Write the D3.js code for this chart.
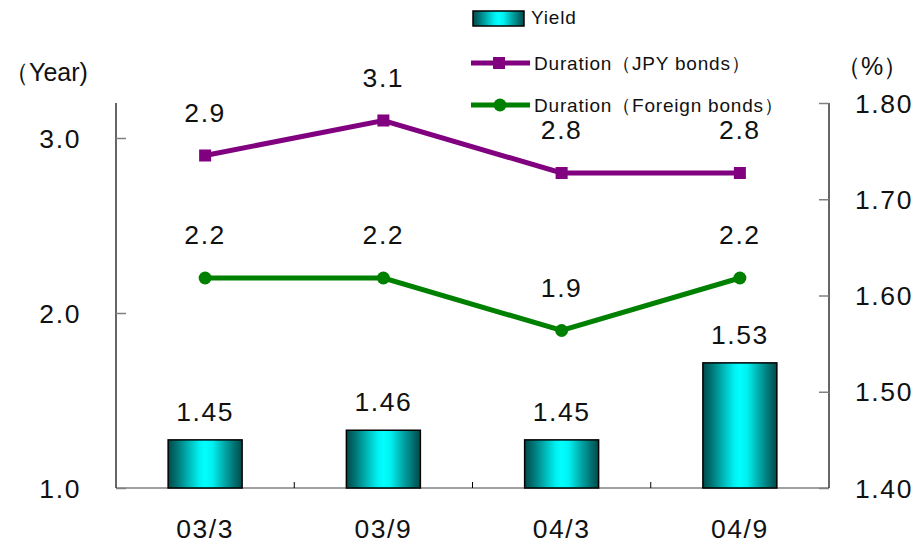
<!DOCTYPE html>
<html>
<head>
<meta charset="utf-8">
<script src="https://cdn.jsdelivr.net/npm/d3@7"></script>
<style>
  html, body { margin: 0; padding: 0; background: #fff; }
  svg { display: block; font-family: "Liberation Sans", Arial, sans-serif; }
  .num { letter-spacing: 1.6px; }
  .leg { letter-spacing: 0.8px; }
</style>
</head>
<body>
<svg id="chart" width="916" height="548"></svg>
<script>
// Half-year periods
const categories = ["03/3", "03/9", "04/3", "04/9"];
// Portfolio yield (%), right axis
const yieldValues = [1.45, 1.46, 1.45, 1.53];
// Duration in years, left axis
const durationJPY = [2.9, 3.1, 2.8, 2.8];
const durationForeign = [2.2, 2.2, 1.9, 2.2];
// Axis tick labels
const leftTicks = [1.0, 2.0, 3.0];
const rightTicks = [1.40, 1.50, 1.60, 1.70, 1.80];

const svg = d3.select("#chart");
const plot = { left: 116, right: 829, top: 103, bottom: 488 };

const x = d3.scaleBand().domain(categories).range([plot.left, plot.right]).paddingInner(0.585).paddingOuter(0.2925);
const xc = d3.scaleBand().domain(categories).range([plot.left, plot.right]);
const yL = d3.scaleLinear().domain([1.0, 3.2]).range([plot.bottom, plot.top]);
const yR = d3.scaleLinear().domain([1.40, 1.80]).range([plot.bottom, plot.top]);

// Bar gradient: dark teal edges, bright cyan centre
const defs = svg.append("defs");
const grad = defs.append("linearGradient").attr("id", "cyl").attr("x1", "0").attr("x2", "1").attr("y1", "0").attr("y2", "0");
[[0, "#004a4a"], [0.12, "#007575"], [0.28, "#00b8b8"], [0.42, "#00f0f0"], [0.5, "#00ffff"], [0.6, "#00f0f0"], [0.75, "#00adad"], [0.9, "#007070"], [1, "#004a4a"]]
  .forEach(([o, c]) => grad.append("stop").attr("offset", o).attr("stop-color", c));

// Category baseline and separator ticks
svg.append("line").attr("x1", plot.left).attr("x2", plot.right).attr("y1", plot.bottom).attr("y2", plot.bottom)
  .attr("stroke", "#808080").attr("stroke-width", 1.5);
svg.append("g").selectAll("line").data(categories.slice(1)).join("line")
  .attr("x1", d => xc(d)).attr("x2", d => xc(d))
  .attr("y1", plot.bottom).attr("y2", plot.bottom - 6)
  .attr("stroke", "#000").attr("stroke-width", 1);

// Left axis (years)
const axL = d3.axisRight(yL).tickValues(leftTicks).tickSize(10).tickFormat("");
const gL = svg.append("g").attr("transform", `translate(${plot.left},0)`).call(axL);
gL.select(".domain").attr("stroke", "#000").attr("stroke-width", 1.2).attr("d", `M0,${plot.top}V${plot.bottom}`);
gL.selectAll(".tick line").attr("stroke", "#808080").attr("stroke-width", 1.5);
svg.append("g").selectAll("text").data(leftTicks).join("text")
  .attr("class", "num").attr("x", 81).attr("y", d => yL(d) + 9.5).attr("text-anchor", "end")
  .attr("font-size", 26.5).attr("fill", "#111").text(d => d.toFixed(1));

// Right axis (%)
const axR = d3.axisLeft(yR).tickValues(rightTicks).tickSize(10).tickFormat("");
const gR = svg.append("g").attr("transform", `translate(${plot.right},0)`).call(axR);
gR.select(".domain").attr("stroke", "#000").attr("stroke-width", 1.2).attr("d", `M0,${plot.top}V${plot.bottom}`);
gR.selectAll(".tick line").attr("stroke", "#808080").attr("stroke-width", 1.5);
svg.append("g").selectAll("text").data(rightTicks).join("text")
  .attr("class", "num").attr("x", 855).attr("y", d => yR(d) + 9.5).attr("text-anchor", "start")
  .attr("font-size", 26.5).attr("fill", "#111").text(d => d.toFixed(2));

// Axis unit labels
svg.append("text").attr("x", 4).attr("y", 81).attr("font-size", 25).attr("fill", "#111").text("（Year)");
svg.append("text").attr("x", 836).attr("y", 75).attr("font-size", 25).attr("fill", "#111").text("（%）");

// Category labels
svg.append("g").selectAll("text").data(categories).join("text")
  .attr("class", "num").attr("x", d => xc(d) + xc.bandwidth() / 2).attr("y", 538).attr("text-anchor", "middle")
  .attr("font-size", 26.5).attr("fill", "#111").text(d => d);

// Yield bars
svg.append("g").selectAll("rect").data(yieldValues).join("rect")
  .attr("x", (d, i) => x(categories[i])).attr("width", x.bandwidth())
  .attr("y", d => yR(d)).attr("height", d => yR(1.40) - yR(d))
  .attr("fill", "url(#cyl)").attr("stroke", "#000").attr("stroke-width", 1.5);
svg.append("g").selectAll("text").data(yieldValues).join("text")
  .attr("class", "num").attr("x", (d, i) => xc(categories[i]) + xc.bandwidth() / 2).attr("y", d => yR(d) - 19)
  .attr("text-anchor", "middle").attr("font-size", 26.5).attr("fill", "#111").text(d => d.toFixed(2));

// Duration lines
const cx = (d, i) => xc(categories[i]) + xc.bandwidth() / 2;
const line = d3.line().x(cx).y(d => yL(d));
function drawSeries(values, color, shape) {
  const g = svg.append("g");
  g.append("path").datum(values).attr("d", line).attr("fill", "none")
    .attr("stroke", color).attr("stroke-width", 5).attr("stroke-linejoin", "miter");
  if (shape === "square") {
    g.selectAll("rect").data(values).join("rect")
      .attr("x", (d, i) => cx(d, i) - 6).attr("y", d => yL(d) - 6).attr("width", 12).attr("height", 12).attr("fill", color);
  } else {
    g.selectAll("circle").data(values).join("circle")
      .attr("cx", cx).attr("cy", d => yL(d)).attr("r", 6.5).attr("fill", color);
  }
  g.selectAll("text").data(values).join("text")
    .attr("class", "num").attr("x", cx).attr("y", d => yL(d) - 34).attr("text-anchor", "middle")
    .attr("font-size", 26.5).attr("fill", "#111").text(d => d.toFixed(1));
}
drawSeries(durationJPY, "#800080", "square");
drawSeries(durationForeign, "#008000", "circle");

// Legend
const lg = svg.append("g");
lg.append("rect").attr("x", 473).attr("y", 11).attr("width", 51).attr("height", 15)
  .attr("fill", "url(#cyl)").attr("stroke", "#000").attr("stroke-width", 1.5);
lg.append("text").attr("class", "leg").attr("x", 531).attr("y", 24).attr("font-size", 19).attr("fill", "#111").text("Yield");
lg.append("line").attr("x1", 471).attr("x2", 530).attr("y1", 63).attr("y2", 63).attr("stroke", "#800080").attr("stroke-width", 5);
lg.append("rect").attr("x", 493).attr("y", 57).attr("width", 12).attr("height", 12).attr("fill", "#800080");
lg.append("text").attr("class", "leg").attr("x", 534).attr("y", 70).attr("font-size", 19).attr("fill", "#111").text("Duration（JPY  bonds）");
lg.append("line").attr("x1", 471).attr("x2", 530).attr("y1", 105).attr("y2", 105).attr("stroke", "#008000").attr("stroke-width", 5);
lg.append("circle").attr("cx", 500).attr("cy", 105).attr("r", 6.5).attr("fill", "#008000");
lg.append("text").attr("class", "leg").attr("x", 534).attr("y", 112).attr("font-size", 19).attr("fill", "#111").text("Duration（Foreign bonds）");
</script>
</body>
</html>
